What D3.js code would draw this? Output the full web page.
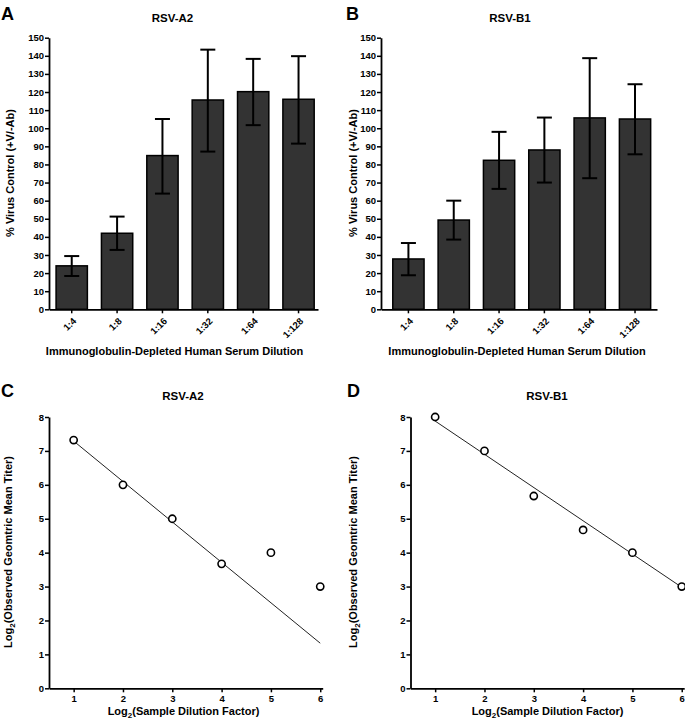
<!DOCTYPE html>
<html><head><meta charset="utf-8">
<script src="https://cdn.jsdelivr.net/npm/d3@7"></script>
<style>
body{margin:0;background:#fff;}
svg text{font-family:"Liberation Sans",Arial,Helvetica,sans-serif;font-weight:bold;fill:#000;}
</style></head>
<body><svg id="c" width="685" height="723"></svg>
<script>
// ---- data ----
const dilutions = ["1:4","1:8","1:16","1:32","1:64","1:128"];
const a2Mean  = [24, 42, 84.9, 115.6, 120.2, 116];
const a2Upper = [29.4, 51.2, 105.1, 143.4, 138.3, 139.8];
const a2Lower = [18.4, 32.8, 63.9, 87.1, 101.7, 91.5];
const b1Mean  = [27.8, 49.3, 82.3, 88, 105.7, 105.1];
const b1Upper = [36.6, 60, 98, 105.9, 138.7, 124.3];
const b1Lower = [18.8, 38.5, 66.5, 70, 72.4, 85.6];
const barYTicks = [0,10,20,30,40,50,60,70,80,90,100,110,120,130,140,150];

const log2Dilution = [1,2,3,4,5,6];
const a2Titer = [7.32, 6, 5, 3.67, 4, 3];
const b1Titer = [8, 7, 5.67, 4.67, 4, 3];
const a2FitX = [1, 6], a2FitY = [7.29, 1.33];
const b1FitX = [1, 6], b1FitY = [7.88, 2.98];
const logYTicks = [0,1,2,3,4,5,6,7,8];
const logXTicks = [1,2,3,4,5,6];

const svg = d3.select("#c");

function styleAxis(g){
  g.select(".domain").attr("stroke","#000").attr("stroke-width",1.8);
  g.selectAll(".tick line").attr("stroke","#000").attr("stroke-width",1.5);
  g.selectAll(".tick text").style("font-size","9.5px").attr("fill","#000");
}

function barPanel(o){
  const x = d3.scaleBand().domain(dilutions).range([o.x0,o.x1])
    .paddingInner(0.31).paddingOuter(o.po).align(0.65);
  const y = d3.scaleLinear().domain([0,150]).range([309.3,37.7]);
  const g = svg.append("g");
  const data = dilutions.map((d,i)=>({d, m:o.mean[i], lo:o.lower[i], hi:o.upper[i]}));
  g.selectAll("rect").data(data).join("rect")
    .attr("x",d=>x(d.d)).attr("width",x.bandwidth())
    .attr("y",d=>y(d.m)).attr("height",d=>y(0)-y(d.m))
    .attr("fill","#333").attr("stroke","#000").attr("stroke-width",1.5);
  const eb = g.selectAll("g.eb").data(data).join("g").attr("class","eb")
    .attr("stroke","#000").attr("stroke-width",2);
  const cx = d=>x(d.d)+x.bandwidth()/2;
  eb.append("line").attr("x1",cx).attr("x2",cx)
    .attr("y1",d=>y(d.lo)).attr("y2",d=>y(d.hi));
  eb.append("line").attr("x1",d=>cx(d)-7.5).attr("x2",d=>cx(d)+7.5)
    .attr("y1",d=>y(d.hi)).attr("y2",d=>y(d.hi));
  eb.append("line").attr("x1",d=>cx(d)-7.5).attr("x2",d=>cx(d)+7.5)
    .attr("y1",d=>y(d.lo)).attr("y2",d=>y(d.lo));
  const ya = g.append("g").attr("transform",`translate(${o.x0},0)`)
    .call(d3.axisLeft(y).tickValues(barYTicks).tickSize(4).tickPadding(1).tickSizeOuter(0));
  styleAxis(ya);
  const xa = g.append("g").attr("transform",`translate(0,${y(0)})`)
    .call(d3.axisBottom(x).tickSize(4).tickSizeOuter(0).tickFormat(()=>""));
  styleAxis(xa);
  xa.selectAll(".tick").append("g")
    .attr("transform","translate(3,10) rotate(-45)")
    .append("text")
    .attr("x",0).attr("y",0)
    .attr("text-anchor","end").attr("dy","0.35em")
    .style("font-size","9.5px").text(d=>d);
  g.append("text").attr("x",o.titleX).attr("y",22).attr("text-anchor","middle")
    .style("font-size","11.5px").text(o.title);
  g.append("text").attr("x",o.letterX).attr("y",20).style("font-size","18px").text(o.letter);
  g.append("text").attr("x",o.xLabX).attr("y",355).attr("text-anchor","middle")
    .style("font-size","11px").text("Immunoglobulin-Depleted Human Serum Dilution");
  g.append("text").attr("transform",`translate(${o.yLabX},173) rotate(-90)`).attr("text-anchor","middle")
    .style("font-size","11px").text("% Virus Control (+V/-Ab)");
}

barPanel({x0:49,x1:318,po:0.12,mean:a2Mean,lower:a2Lower,upper:a2Upper,
  title:"RSV-A2",titleX:172.5,letter:"A",letterX:1,xLabX:174.5,yLabX:14});
barPanel({x0:381,x1:657,po:0.2,mean:b1Mean,lower:b1Lower,upper:b1Upper,
  title:"RSV-B1",titleX:510,letter:"B",letterX:346,xLabX:517,yLabX:357});

function logPanel(o){
  const x = d3.scaleLinear().domain([0.5,6.05]).range([o.x0,o.x0+273.7]);
  const y = d3.scaleLinear().domain([0,8]).range([688.3,417]);
  const g = svg.append("g");
  g.append("line").attr("x1",x(o.fitX[0])).attr("y1",y(o.fitY[0]))
    .attr("x2",x(o.fitX[1])).attr("y2",y(o.fitY[1])).attr("stroke","#222").attr("stroke-width",1);
  g.selectAll("circle").data(log2Dilution.map((d,i)=>[d,o.titer[i]])).join("circle")
    .attr("cx",d=>x(d[0])).attr("cy",d=>y(d[1])).attr("r",3.6)
    .attr("fill","#fff").attr("stroke","#000").attr("stroke-width",1.6);
  const ya = g.append("g").attr("transform",`translate(${o.x0},0)`)
    .call(d3.axisLeft(y).tickValues(logYTicks).tickFormat(d3.format("d")).tickSize(4).tickPadding(1).tickSizeOuter(0));
  styleAxis(ya);
  const xa = g.append("g").attr("transform",`translate(0,${y(0)})`)
    .call(d3.axisBottom(x).tickValues(logXTicks).tickFormat(d3.format("d")).tickSize(4).tickPadding(3).tickSizeOuter(0));
  styleAxis(xa);
  g.append("text").attr("x",o.titleX).attr("y",400).attr("text-anchor","middle")
    .style("font-size","11.5px").text(o.title);
  g.append("text").attr("x",o.letterX).attr("y",397).style("font-size","18px").text(o.letter);
  const xl = g.append("text").attr("x",o.xLabX).attr("y",715).attr("text-anchor","middle").style("font-size","11px");
  xl.append("tspan").text("Log");
  xl.append("tspan").attr("dy","3").style("font-size","8px").text("2");
  xl.append("tspan").attr("dy","-3").text("(Sample Dilution Factor)");
  const yl = g.append("text").attr("transform",`translate(${o.yLabX},552) rotate(-90)`).attr("text-anchor","middle").style("font-size","11px");
  yl.append("tspan").text("Log");
  yl.append("tspan").attr("dy","3").style("font-size","8px").text("2");
  yl.append("tspan").attr("dy","-3").text("(Observed Geomtric Mean Titer)");
}

logPanel({x0:49,titer:a2Titer,fitX:a2FitX,fitY:a2FitY,title:"RSV-A2",titleX:183,
  letter:"C",letterX:1,xLabX:183.5,yLabX:12});
logPanel({x0:410.5,titer:b1Titer,fitX:b1FitX,fitY:b1FitY,title:"RSV-B1",titleX:547,
  letter:"D",letterX:347,xLabX:547.5,yLabX:357});
</script></body></html>
